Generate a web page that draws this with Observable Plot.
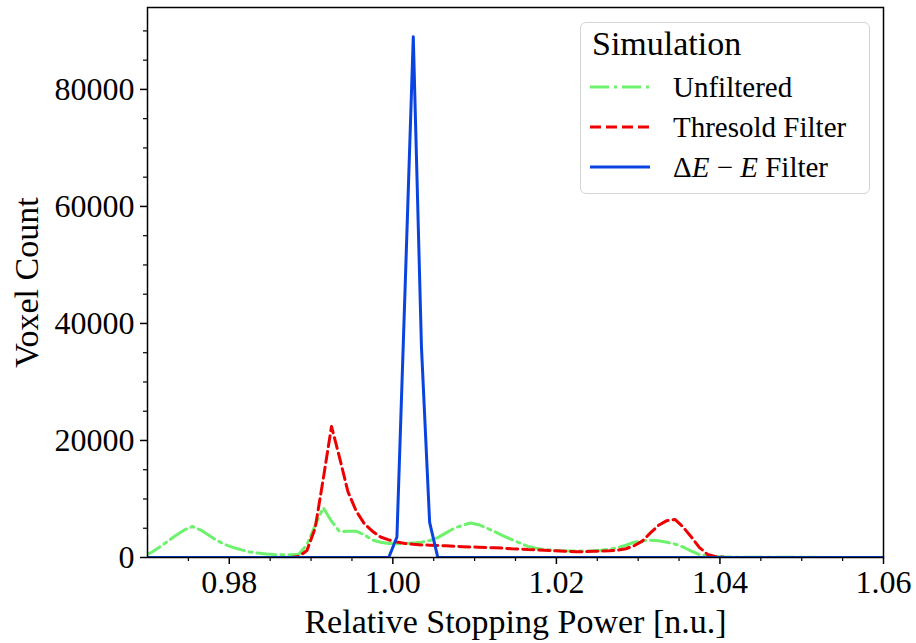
<!DOCTYPE html>
<html>
<head>
<meta charset="utf-8">
<script src="https://cdn.jsdelivr.net/npm/d3@7"></script>
<script src="https://cdn.jsdelivr.net/npm/@observablehq/plot@0.6"></script>
<style>
  body { margin: 0; background: #fff; }
  #wrap { position: relative; width: 916px; height: 643px; font-family: "Liberation Serif", serif; color: #000; }
  #legendBox { position: absolute; left: 580px; top: 22px; width: 290px; height: 172px; box-sizing: border-box;
    border: 1.5px solid #d4d4d4; border-radius: 6px; background: rgba(255,255,255,0.85); }
  .lg { position: absolute; white-space: nowrap; line-height: 1; }
  #lgTitle { left: 592px; top: 27px; font-size: 34px; }
  .lgLabel { left: 673px; font-size: 29px; }
  #lgSamples { position: absolute; left: 588px; top: 70px; }
</style>
</head>
<body>
<div id="wrap">
  <div id="chart"></div>
  <div id="legendBox"></div>
  <div class="lg" id="lgTitle"></div>
  <div class="lg lgLabel" id="lg0" style="top:73px"></div>
  <div class="lg lgLabel" id="lg1" style="top:113px"></div>
  <div class="lg lgLabel" id="lg2" style="top:153px"></div>
  <svg id="lgSamples" width="66" height="110"></svg>
</div>
<script>
// ---- data ----
const xGrid = [
  0.9695, 0.9705, 0.9715, 0.9725, 0.9735, 0.9745, 0.9755, 0.9765, 0.9775, 0.9785,
  0.9795, 0.9805, 0.9815, 0.9825, 0.9835, 0.9845, 0.9855, 0.9865, 0.9875, 0.9885,
  0.9895, 0.9905, 0.9915, 0.9925, 0.9935, 0.9945, 0.9955, 0.9965, 0.9975, 0.9985,
  0.9995, 1.0005, 1.0015, 1.0025, 1.0035, 1.0045, 1.0055, 1.0065, 1.0075, 1.0085,
  1.0095, 1.0105, 1.0115, 1.0125, 1.0135, 1.0145, 1.0155, 1.0165, 1.0175, 1.0185,
  1.0195, 1.0205, 1.0215, 1.0225, 1.0235, 1.0245, 1.0255, 1.0265, 1.0275, 1.0285,
  1.0295, 1.0305, 1.0315, 1.0325, 1.0335, 1.0345, 1.0355, 1.0365, 1.0375, 1.0385,
  1.0395, 1.0405, 1.0415, 1.0425, 1.0605
];
const unfiltered = [
  200, 900, 1800, 2800, 3800, 4700, 5300, 4700, 3800, 2900,
  2200, 1700, 1300, 950, 750, 600, 500, 450, 450, 550,
  2200, 5500, 8500, 6200, 4400, 4500, 4500, 3900, 3000, 2600,
  2400, 2350, 2400, 2500, 2600, 2900, 3400, 4200, 5000, 5500,
  5900, 5600, 5000, 4400, 3700, 3100, 2500, 1900, 1600, 1350,
  1250, 1150, 1100, 1100, 1100, 1150, 1250, 1400, 1700, 2100,
  2600, 2850, 2950, 2850, 2600, 2300, 1800, 1100, 500, 250,
  150, 100, 60, 40, 0
];
const thresholdFilter = [
  0, 0, 0, 0, 0, 0, 0, 0, 0, 0,
  0, 0, 0, 0, 0, 0, 0, 0, 0, 200,
  1200, 5000, 13500, 22400, 17000, 11300, 8000, 5800, 4500, 3500,
  3000, 2650, 2400, 2250, 2150, 2100, 2050, 2000, 1900, 1850,
  1800, 1750, 1700, 1650, 1600, 1500, 1450, 1350, 1300, 1250,
  1150, 1100, 1050, 1000, 1000, 1050, 1100, 1150, 1250, 1500,
  2000, 2800, 4200, 5500, 6300, 6500, 5200, 3500, 1700, 500,
  150, 30, 0, 0, 0
];
const deltaEX = [0.9695, 0.9995, 1.0005, 1.0015, 1.0025, 1.0035, 1.0045, 1.0055, 1.0605];
const deltaEFilter = [0, 0, 3500, 46000, 89000, 36000, 6000, 0, 0];

const xMajor = [0.98, 1.00, 1.02, 1.04, 1.06];
const xMinor = [0.975, 0.985, 0.99, 0.995, 1.005, 1.01, 1.015, 1.025, 1.03, 1.035, 1.045, 1.05, 1.055];
const yMajor = [0, 20000, 40000, 60000, 80000];
const yMinor = [5000, 10000, 15000, 25000, 30000, 35000, 45000, 50000, 55000, 65000, 70000, 75000, 85000, 90000];

const seriesNames = ["Unfiltered", "Thresold Filter", "ΔE − E Filter"];
const colors = ["#6ef26e", "#ee0000", "#0a44e0"];
const dashes = ["19,5,3,5", "11,5", null];
const xLabel = "Relative Stopping Power [n.u.]";
const yLabel = "Voxel Count";
const legendTitle = "Simulation";

// ---- build ----
const rows = (xs, ys) => xs.map((x, i) => ({x, y: ys[i]}));
const lineData = [rows(xGrid, unfiltered), rows(xGrid, thresholdFilter), rows(deltaEX, deltaEFilter)];

const chart = Plot.plot({
  width: 916, height: 643,
  marginLeft: 147, marginRight: 33, marginTop: 7, marginBottom: 86,
  x: {domain: [0.97, 1.06]},
  y: {domain: [0, 94000]},
  style: {fontFamily: "'Liberation Serif', serif", fontSize: "32px", color: "black", background: "white"},
  marks: [
    ...lineData.map((d, i) => Plot.line(d, {
      x: "x", y: "y", stroke: colors[i], strokeWidth: 3,
      strokeDasharray: dashes[i] ?? undefined, clip: true
    })),
    Plot.frame({stroke: "black", strokeWidth: 1.5}),
    Plot.axisX(xMajor, {tickSize: 7, tickPadding: 6, tickFormat: d3.format(".2f"), label: null, strokeWidth: 1.5, fontSize: 32}),
    Plot.axisX(xMinor, {tickSize: 4, tickFormat: () => "", label: null, strokeWidth: 1.2}),
    Plot.axisY(yMajor, {tickSize: 7, tickPadding: 6, tickFormat: d => String(d), label: null, strokeWidth: 1.5, fontSize: 32}),
    Plot.axisY(yMinor, {tickSize: 4, tickFormat: () => "", label: null, strokeWidth: 1.2}),
    Plot.text([xLabel], {frameAnchor: "bottom", dy: 75, fontSize: 34, textAnchor: "middle", text: d => d}),
    Plot.text([yLabel], {frameAnchor: "left", dx: -120, rotate: -90, fontSize: 34, textAnchor: "middle", text: d => d})
  ]
});
document.getElementById("chart").appendChild(chart);

// ---- legend ----
document.getElementById("lgTitle").textContent = legendTitle;
document.getElementById("lg0").textContent = seriesNames[0];
document.getElementById("lg1").textContent = seriesNames[1];
document.getElementById("lg2").innerHTML = "Δ<i>E</i> − <i>E</i> Filter";
const sv = d3.select("#lgSamples");
[17, 57, 97].forEach((yy, i) => {
  sv.append("line").attr("x1", 2).attr("x2", 62).attr("y1", yy).attr("y2", yy)
    .attr("stroke", colors[i]).attr("stroke-width", 3)
    .attr("stroke-dasharray", dashes[i]);
});
</script>
</body>
</html>
